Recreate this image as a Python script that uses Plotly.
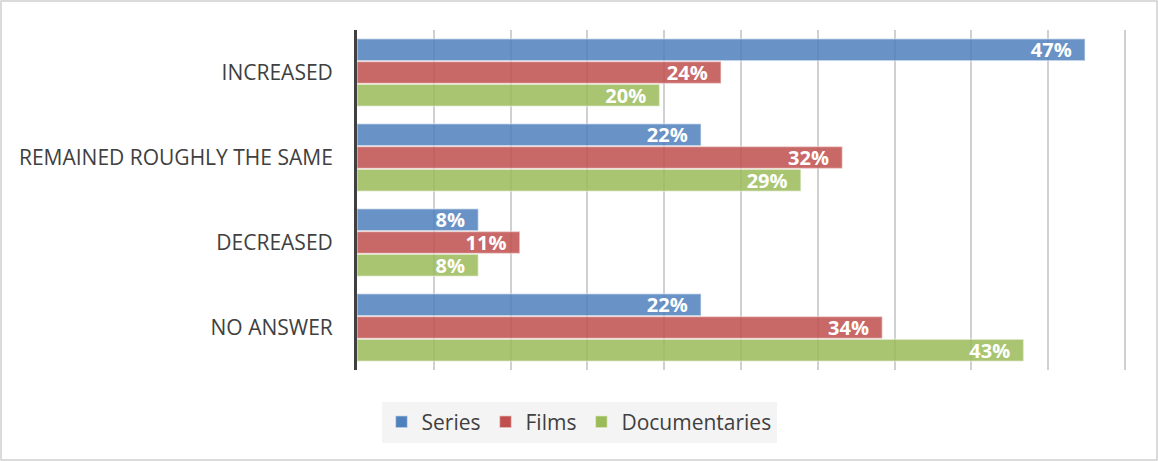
import plotly.graph_objects as go

# data (shares; labels show rounded percent)
categories = ["INCREASED", "REMAINED ROUGHLY THE SAME", "DECREASED", "NO ANSWER"]
series_vals = [0.474, 0.224, 0.079, 0.224]
films_vals = [0.237, 0.316, 0.106, 0.342]
docs_vals = [0.197, 0.289, 0.079, 0.434]

W, H = 1158, 461
ML, MR, MT, MB = 357, 29, 30, 91
FONT = "Open Sans"

traces = [
    ("Series", series_vals, "#4f81bd"),
    ("Films", films_vals, "#c0504d"),
    ("Documentaries", docs_vals, "#9bbb59"),
]

fig = go.Figure()
for name, vals, color in traces:
    fig.add_trace(go.Bar(
        name=name,
        y=categories,
        x=vals,
        orientation="h",
        text=[f"{v:.0%}\u00a0\u00a0" for v in vals],
        textposition="inside",
        insidetextanchor="end",
        constraintext="none",
        textangle=0,
        textfont=dict(family=FONT, size=20, color="white", weight="bold"),
        marker=dict(color=color, opacity=0.85,
                    line=dict(color="rgba(255,255,255,0.45)", width=1.5)),
        cliponaxis=False,
    ))

pw = W - ML - MR
ph = H - MT - MB

fig.update_layout(
    width=W, height=H,
    margin=dict(l=ML, r=MR, t=MT, b=MB),
    barmode="group",
    bargap=0.2,
    bargroupgap=0.03,
    plot_bgcolor="white",
    paper_bgcolor="white",
    font=dict(family=FONT, color="#404040"),
    xaxis=dict(range=[0, 0.5026], dtick=0.05, showticklabels=False,
               showgrid=True, gridcolor="#d0d0d0", gridwidth=1.5,
               zeroline=False, fixedrange=True),
    yaxis=dict(autorange="reversed", showline=True, linecolor="#404040",
               linewidth=3, ticks="", ticklabelstandoff=17,
               tickfont=dict(family=FONT, size=21, color="#404040")),
    legend=dict(orientation="h", xref="container", yref="container",
                x=0.5, xanchor="center", y=1 - 422 / H, yanchor="middle",
                bgcolor="#f4f4f4", font=dict(family=FONT, size=21, color="#404040"),
                itemwidth=30, traceorder="normal"),
    shapes=[dict(type="rect", xref="paper", yref="paper",
                 x0=(1 - ML) / pw, x1=(W - 1 - ML) / pw,
                 y0=-(H - 1 - MT - ph) / ph, y1=(ph + MT - 1) / ph,
                 line=dict(color="#d0d0d0", width=1.5), layer="below")],
)

fig.write_html("out.html", config={"displayModeBar": False},
               post_script="document.body.style.margin='0';")
